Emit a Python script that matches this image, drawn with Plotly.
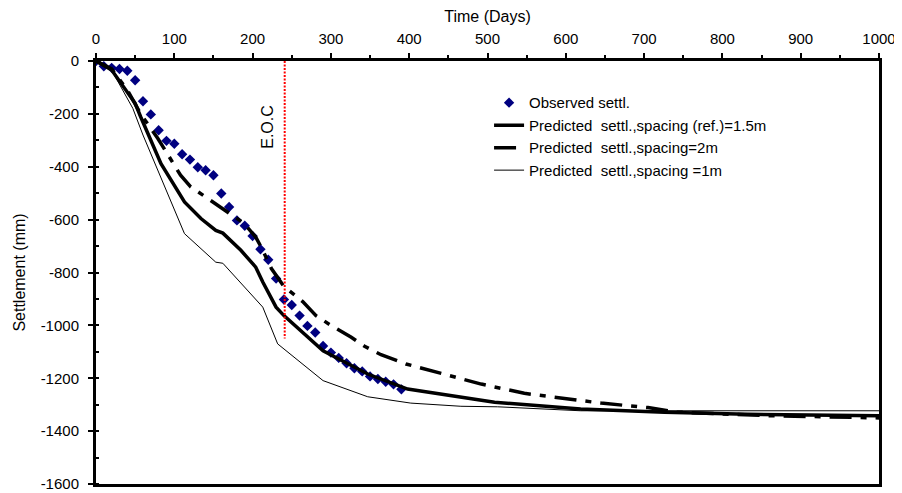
import plotly.graph_objects as go

FONT = "Arial, Liberation Sans, sans-serif"
NAVY = "#000080"

# observed settlement (days, mm)
obs_days = [0, 10, 20, 30, 40, 50, 60, 70, 80, 90, 100, 110, 120, 130, 140, 150,
            160, 170, 180, 190, 200, 210, 220, 230, 240, 250, 260, 270, 280, 290,
            300, 310, 320, 330, 340, 350, 360, 370, 380, 390]
obs_settl = [0, -20, -26, -30, -37, -73, -152, -202, -262, -302, -313, -353, -373,
             -402, -413, -432, -501, -552, -603, -623, -662, -712, -752, -823, -902,
             -923, -963, -1002, -1027, -1078, -1103, -1123, -1143, -1162, -1174,
             -1193, -1203, -1213, -1223, -1242]

# predicted, spacing 1.5m (reference)
ref_days = [0, 20, 50, 57, 83, 113, 134, 153, 162, 185, 204, 213, 230, 240, 290,
            347, 398, 466, 509, 619, 726, 832, 1000]
ref_settl = [0, -34, -160, -211, -388, -533, -596, -641, -651, -716, -780, -836,
             -931, -963, -1096, -1184, -1241, -1273, -1291, -1316, -1329, -1336, -1342]

# predicted, spacing 2m
sp2_days = [0, 20, 40, 57, 79, 93, 108, 121, 143, 168, 189, 204, 211, 224, 234, 240,
            264, 281, 300, 326, 343, 364, 396, 441, 492, 547, 596, 645, 705, 740,
            853, 1000]
sp2_settl = [0, -30, -110, -200, -293, -363, -432, -476, -520, -571, -614, -666,
             -704, -785, -830, -853, -910, -963, -1000, -1045, -1079, -1111, -1146,
             -1183, -1222, -1257, -1276, -1294, -1311, -1328, -1341, -1350]

# predicted, spacing 1m
sp1_days = [0, 20, 47, 60, 113, 134, 153, 162, 204, 213, 232, 290, 347, 402, 466,
            513, 619, 1000]
sp1_settl = [0, -35, -179, -280, -653, -710, -761, -765, -900, -931, -1070, -1209,
             -1270, -1294, -1306, -1308, -1323, -1323]

eoc_day = 241
eoc_depth = [0, -1050]

x_ticks = list(range(0, 1001, 100))
y_ticks = list(range(-1600, 1, 200))

fig = go.Figure()
fig.add_trace(go.Scatter(
    x=obs_days, y=obs_settl, mode="markers", name="Observed settl.",
    marker=dict(symbol="diamond", size=8, color=NAVY),
))
fig.add_trace(go.Scatter(
    x=ref_days, y=ref_settl, mode="lines",
    name="Predicted  settl.,spacing (ref.)=1.5m",
    line=dict(color="black", width=3.5),
))
fig.add_trace(go.Scatter(
    x=sp2_days, y=sp2_settl, mode="lines",
    name="Predicted  settl.,spacing=2m",
    line=dict(color="black", width=3.5, dash="22px,9px,6px,9px"),
))
fig.add_trace(go.Scatter(
    x=sp1_days, y=sp1_settl, mode="lines",
    name="Predicted  settl.,spacing =1m",
    line=dict(color="black", width=1),
))
fig.add_trace(go.Scatter(
    x=[eoc_day, eoc_day], y=eoc_depth, mode="lines", showlegend=False,
    line=dict(color="red", width=2, dash="2px,1.5px"),
))

fig.add_annotation(
    x=218, y=-250, text="E.O.C", textangle=-90, showarrow=False,
    font=dict(size=16, color="black", family=FONT),
)

# the page body adds an 8px offset, so margins are trimmed by 8px on top/left
fig.update_layout(
    width=902, height=493,
    margin=dict(l=88, r=31, t=53, b=17),
    plot_bgcolor="white", paper_bgcolor="white",
    font=dict(family=FONT, size=15, color="black"),
    legend=dict(
        x=0.502, y=0.94, xanchor="left", yanchor="top",
        bgcolor="rgba(0,0,0,0)", font=dict(size=15), tracegroupgap=0,
    ),
)
fig.update_xaxes(
    side="top", range=[0, 1000], tickvals=x_ticks,
    ticktext=[str(v) for v in x_ticks],
    title=dict(text="Time (Days)", font=dict(size=16), standoff=4),
    showline=True, linewidth=3, linecolor="black", mirror=True,
    ticks="outside", ticklen=5, tickwidth=2, tickcolor="black",
    ticklabelstandoff=3,
    minor=dict(dtick=50, ticks="outside", ticklen=3, tickwidth=2, tickcolor="black"),
    showgrid=False, zeroline=False, automargin=False,
)
fig.update_yaxes(
    range=[-1600, 0], tickvals=y_ticks,
    ticktext=[str(v) for v in y_ticks],
    title=dict(text="Settlement (mm)", font=dict(size=16), standoff=12),
    showline=True, linewidth=3, linecolor="black", mirror=True,
    ticks="outside", ticklen=5, tickwidth=2, tickcolor="black",
    ticklabelstandoff=6,
    minor=dict(dtick=100, ticks="inside", ticklen=3, tickwidth=2, tickcolor="black"),
    showgrid=False, zeroline=False, automargin=False,
)

fig.write_html("out.html")
